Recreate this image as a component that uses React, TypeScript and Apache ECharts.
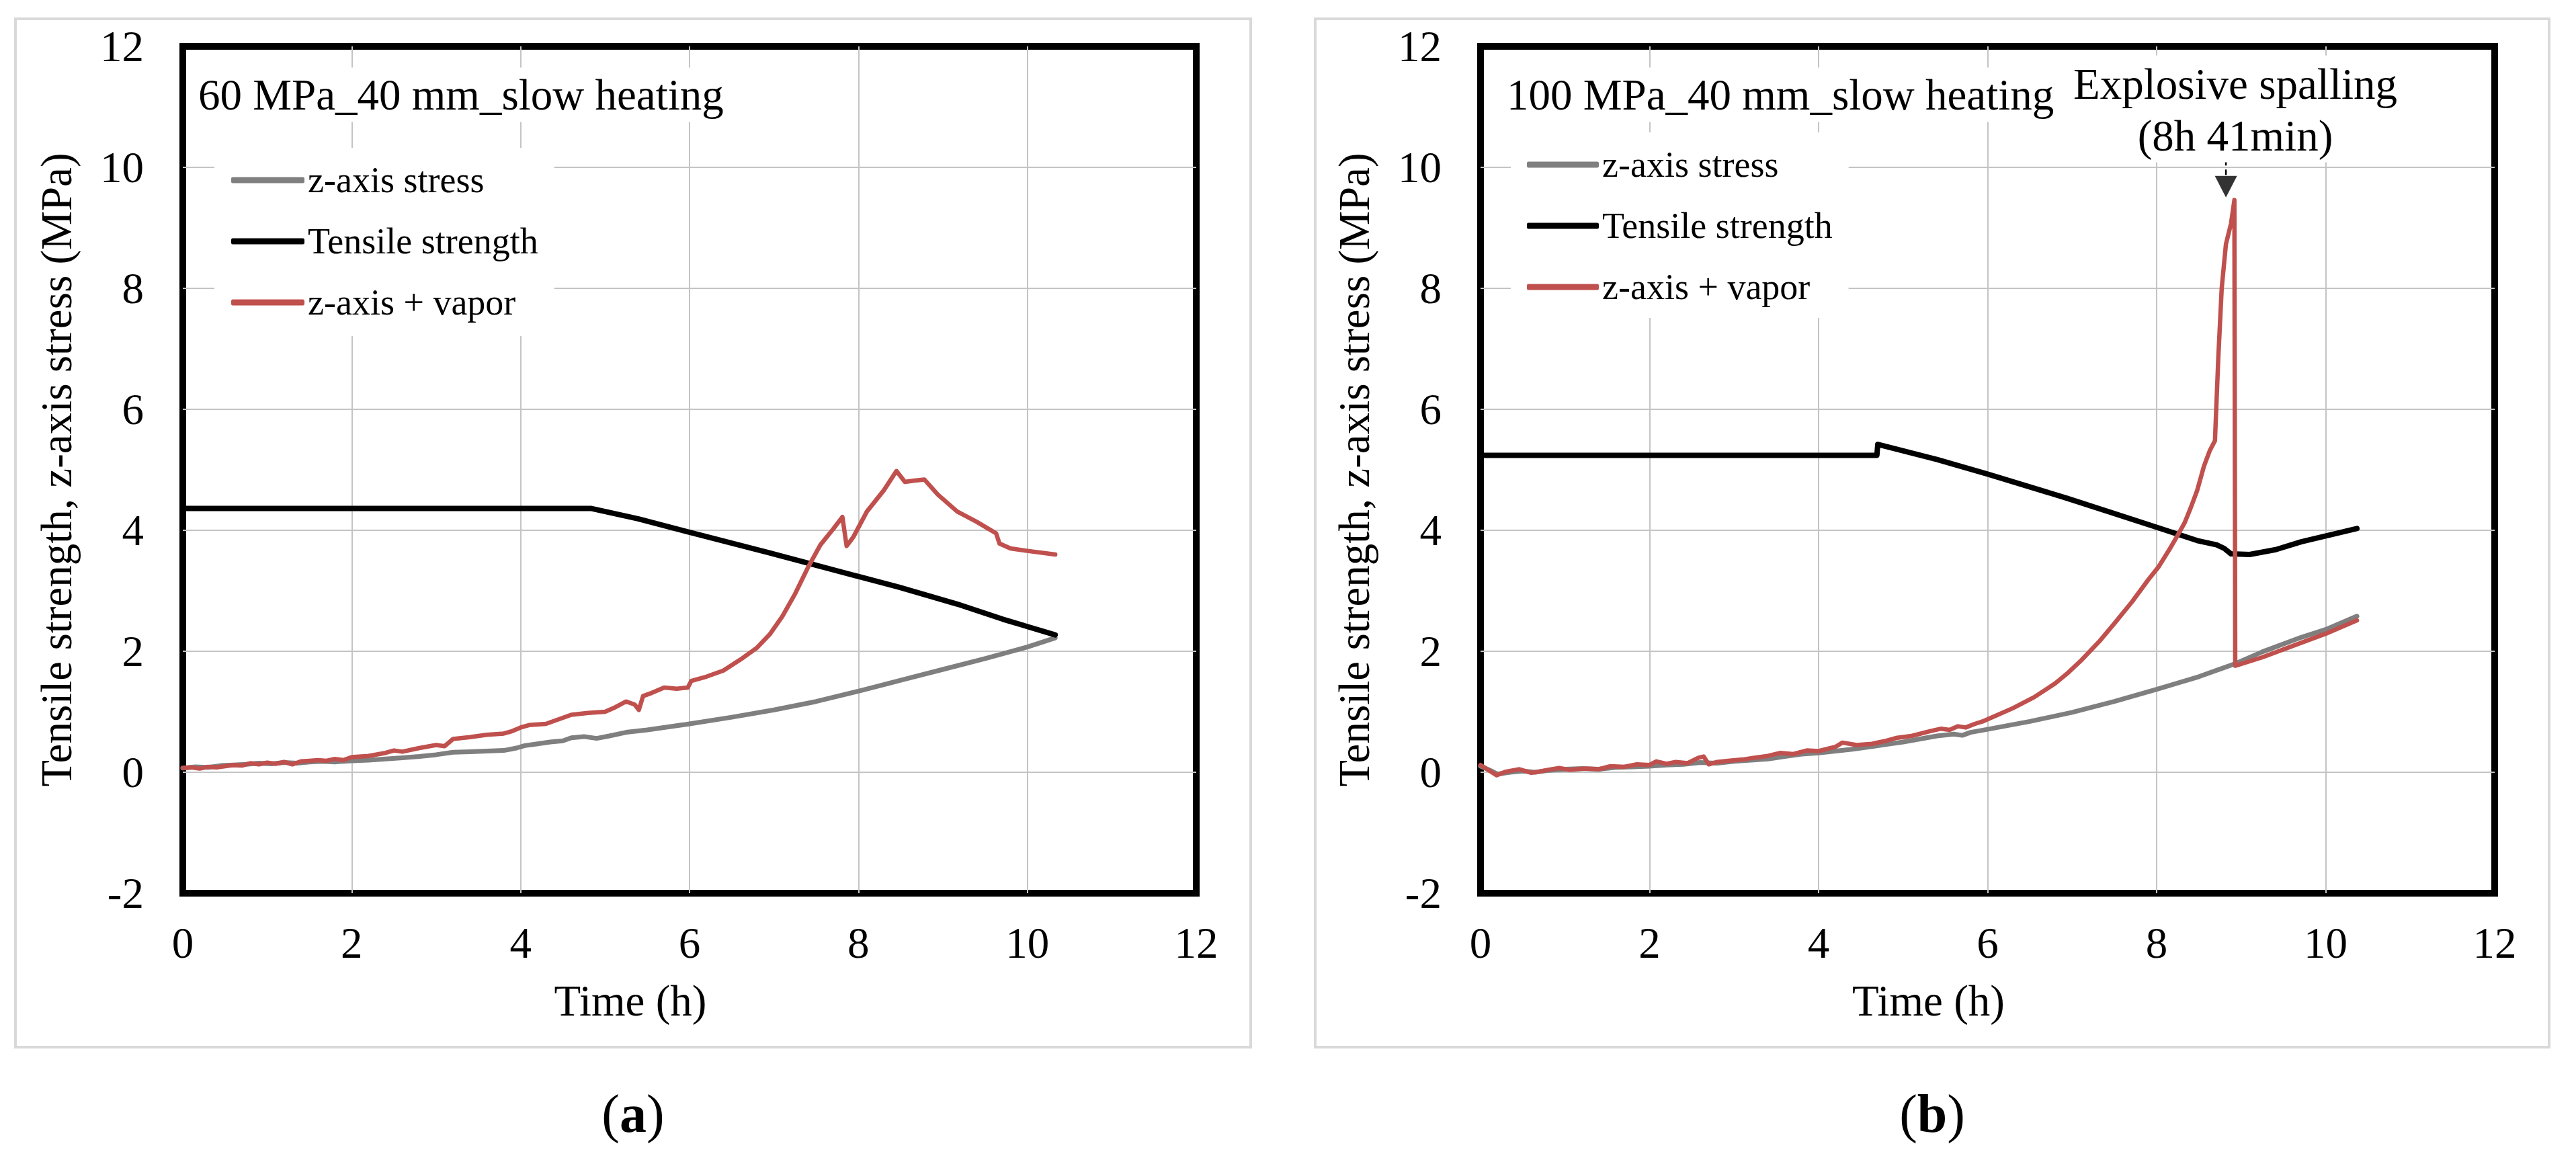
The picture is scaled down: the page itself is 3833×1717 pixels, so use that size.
import React, { useEffect, useRef } from "react";
import * as echarts from "echarts";

const FONT = "'Liberation Serif', 'Times New Roman', serif";

const NAMES = ["z-axis stress", "Tensile strength", "z-axis + vapor"];
const TITLE_A = "60 MPa_40 mm_slow heating";
const TITLE_B = "100 MPa_40 mm_slow heating";
const X_TITLE = "Time (h)";
const Y_TITLE = "Tensile strength, z-axis stress (MPa)";
const NOTE_1 = "Explosive spalling";
const NOTE_2 = "(8h 41min)";

// ---- Panel (a): 60 MPa ----
const A_GRAY_X = [0, 0.15, 0.3, 0.45, 0.6, 0.75, 0.9, 1.05, 1.2, 1.35, 1.5, 1.65, 1.8, 2.0, 2.2, 2.4, 2.6, 2.8, 3.0, 3.2, 3.4, 3.6, 3.8, 3.95, 4.05, 4.2, 4.35, 4.5, 4.6, 4.75, 4.9, 5.05, 5.25, 5.5, 5.75, 6.0, 6.5, 7.0, 7.5, 8.0, 8.5, 9.0, 9.5, 10.0, 10.33];
const A_GRAY_Y = [0.07, 0.09, 0.08, 0.11, 0.12, 0.13, 0.15, 0.14, 0.16, 0.15, 0.17, 0.18, 0.17, 0.19, 0.2, 0.22, 0.24, 0.26, 0.29, 0.33, 0.34, 0.35, 0.36, 0.4, 0.44, 0.47, 0.5, 0.52, 0.57, 0.59, 0.56, 0.6, 0.66, 0.7, 0.75, 0.8, 0.91, 1.03, 1.17, 1.34, 1.52, 1.7, 1.88, 2.07, 2.22];

const A_BLACK_X = [0, 4.84, 5.39, 5.99, 6.94, 7.99, 8.48, 9.17, 9.71, 10.33];
const A_BLACK_Y = [4.36, 4.36, 4.19, 3.97, 3.63, 3.24, 3.06, 2.78, 2.53, 2.27];

const A_RED_X = [0, 0.1, 0.2, 0.3, 0.4, 0.5, 0.6, 0.7, 0.8, 0.9, 1.0, 1.1, 1.2, 1.3, 1.4, 1.5, 1.6, 1.7, 1.8, 1.9, 2.0, 2.2, 2.4, 2.5, 2.6, 2.8, 3.0, 3.1, 3.2, 3.4, 3.6, 3.8, 3.9, 4.0, 4.1, 4.3, 4.5, 4.6, 4.8, 5.0, 5.1, 5.25, 5.35, 5.4, 5.45, 5.55, 5.7, 5.85, 5.98, 6.02, 6.2, 6.4, 6.6, 6.8, 6.95, 7.1, 7.25, 7.4, 7.55, 7.7, 7.81, 7.86, 7.94, 8.1, 8.3, 8.45, 8.55, 8.65, 8.78, 8.94, 9.17, 9.4, 9.63, 9.67, 9.8, 10.0, 10.33];
const A_RED_Y = [0.07, 0.08, 0.06, 0.09, 0.08, 0.1, 0.12, 0.11, 0.15, 0.13, 0.16, 0.14, 0.17, 0.13, 0.18, 0.19, 0.2, 0.19, 0.22, 0.2, 0.25, 0.27, 0.32, 0.36, 0.34, 0.4, 0.45, 0.43, 0.55, 0.58, 0.62, 0.64, 0.68, 0.74, 0.78, 0.8, 0.9, 0.95, 0.98, 1.0, 1.06, 1.17, 1.12, 1.03, 1.26, 1.31, 1.4, 1.38, 1.4, 1.51, 1.58, 1.68, 1.86, 2.06, 2.28, 2.58, 2.95, 3.38, 3.76, 4.02, 4.22, 3.74, 3.89, 4.31, 4.66, 4.98, 4.8, 4.82, 4.84, 4.59, 4.31, 4.14, 3.95, 3.78, 3.7, 3.66, 3.6];

// ---- Panel (b): 100 MPa ----
const B_GRAY_X = [0, 0.1, 0.2, 0.35, 0.5, 0.65, 0.8, 1.0, 1.2, 1.4, 1.6, 1.8, 2.0, 2.2, 2.4, 2.6, 2.8, 3.0, 3.2, 3.4, 3.6, 3.8, 4.0, 4.2, 4.4, 4.6, 4.8, 5.0, 5.2, 5.4, 5.6, 5.7, 5.8, 6.0, 6.5, 7.0, 7.5, 8.0, 8.5, 8.94, 9.25, 9.71, 10.0, 10.37];
const B_GRAY_Y = [0.1, 0.04, -0.03, 0.0, 0.02, 0.0, 0.03, 0.05, 0.06, 0.05, 0.08, 0.09, 0.1, 0.12, 0.13, 0.16, 0.15, 0.18, 0.2, 0.22, 0.26, 0.3, 0.32, 0.35, 0.38, 0.42, 0.46, 0.5, 0.55, 0.6, 0.63, 0.61, 0.66, 0.71, 0.84, 0.99, 1.17, 1.37, 1.58, 1.8, 1.99, 2.23, 2.36, 2.58];

const B_BLACK_X = [0, 4.69, 4.7, 5.4, 6.0, 6.94, 8.0, 8.48, 8.71, 8.8, 8.88, 9.1, 9.41, 9.71, 10.37];
const B_BLACK_Y = [5.24, 5.24, 5.42, 5.17, 4.93, 4.53, 4.05, 3.83, 3.76, 3.7, 3.61, 3.6, 3.68, 3.81, 4.03];

const B_RED_X = [0, 0.1, 0.19, 0.3, 0.46, 0.6, 0.69, 0.8, 0.93, 1.05, 1.23, 1.4, 1.54, 1.7, 1.85, 2.0, 2.08, 2.2, 2.31, 2.45, 2.58, 2.64, 2.7, 2.8, 2.93, 3.1, 3.24, 3.4, 3.55, 3.7, 3.86, 4.0, 4.2, 4.28, 4.45, 4.63, 4.8, 4.93, 5.1, 5.32, 5.45, 5.55, 5.65, 5.74, 5.85, 5.94, 6.09, 6.3, 6.55, 6.8, 6.94, 7.1, 7.32, 7.5, 7.71, 7.9, 8.02, 8.15, 8.25, 8.33, 8.4, 8.48, 8.56, 8.63, 8.69, 8.73, 8.77, 8.82, 8.88, 8.92, 8.93, 9.25, 9.71, 10.0, 10.37];
const B_RED_Y = [0.12, 0.03, -0.05, 0.01, 0.05, -0.01, 0.01, 0.04, 0.07, 0.04, 0.06, 0.05, 0.1, 0.09, 0.13, 0.12, 0.18, 0.14, 0.17, 0.15, 0.24, 0.26, 0.13, 0.17, 0.19, 0.21, 0.24, 0.27, 0.32, 0.3, 0.36, 0.35, 0.42, 0.49, 0.45, 0.47, 0.52, 0.57, 0.6, 0.68, 0.72, 0.7, 0.76, 0.74, 0.8, 0.84, 0.93, 1.06, 1.24, 1.47, 1.63, 1.84, 2.16, 2.46, 2.82, 3.18, 3.39, 3.68, 3.92, 4.12, 4.36, 4.66, 5.06, 5.32, 5.48, 6.86, 8.0, 8.73, 9.07, 9.46, 1.76, 1.9, 2.14, 2.29, 2.51];

// spalling arrow (x, stem top/bottom y, head centre y)
const ARROW_X = [8.82];
const ARROW_STEM_Y = [10.12, 9.86];
const ARROW_HEAD_Y = [9.68];

const X_TICKS = [0, 12, 2];
const Y_TICKS = [-2, 12, 2];

const GRAY = "#7f7f7f";
const BLACK = "#000000";
const RED = "#c0504d";

const zip = (xs: number[], ys: number[]) => xs.map((x, i) => [x, ys[i]]);

const splitLine = {
  show: true,
  showMinLine: false,
  showMaxLine: false,
  lineStyle: { color: "#c4c4c4", width: 2 },
};

function axisX(gridIndex: number) {
  return {
    type: "value",
    gridIndex,
    min: X_TICKS[0],
    max: X_TICKS[1],
    interval: X_TICKS[2],
    axisLine: { show: false },
    axisTick: { show: false },
    splitLine,
    axisLabel: { color: "#000", fontFamily: FONT, fontSize: 65, lineHeight: 65, margin: 41 },
    name: X_TITLE,
    nameLocation: "middle",
    nameGap: 127,
    nameTextStyle: { color: "#000", fontFamily: FONT, fontSize: 65, lineHeight: 65, padding: [0, 176, 0, 0] },
  };
}

function axisY(gridIndex: number) {
  return {
    type: "value",
    gridIndex,
    min: Y_TICKS[0],
    max: Y_TICKS[1],
    interval: Y_TICKS[2],
    axisLine: { show: false },
    axisTick: { show: false },
    splitLine,
    axisLabel: { color: "#000", fontFamily: FONT, fontSize: 65, margin: 58 },
    name: Y_TITLE,
    nameLocation: "middle",
    nameGap: 156,
    nameTextStyle: { color: "#000", fontFamily: FONT, fontSize: 65, lineHeight: 65 },
  };
}

function lineSeries(name: string, data: number[][], color: string, idx: number, width: number) {
  return {
    type: "line",
    name,
    xAxisIndex: idx,
    yAxisIndex: idx,
    data,
    symbol: "none",
    showSymbol: false,
    lineStyle: { color, width, cap: "round", join: "round" },
    itemStyle: { color },
    silent: true,
  };
}

function legend(left: number, top: number, itemWidth: number, padding: number[]) {
  return {
    data: NAMES,
    orient: "vertical",
    left,
    top,
    padding,
    backgroundColor: "#ffffff",
    icon: "roundRect",
    itemWidth,
    itemHeight: 9,
    itemGap: 31,
    selectedMode: false,
    textStyle: { color: "#000", fontFamily: FONT, fontSize: 54, lineHeight: 60 },
  };
}

function textEl(text: string, x: number, y: number, opts: any = {}) {
  return {
    type: "text",
    x,
    y,
    z: 50,
    silent: true,
    style: {
      text,
      fill: "#000",
      font: "65px 'Liberation Serif', 'Times New Roman', serif",
      fontFamily: FONT,
      fontSize: 65,
      align: "left",
      verticalAlign: "middle",
      ...opts,
    },
  };
}

function panelLabel(letter: string, x: number) {
  return {
    type: "text",
    x,
    y: 1657,
    z: 50,
    silent: true,
    style: {
      text: "{p|(}{b|" + letter + "}{p|)}",
      align: "center",
      verticalAlign: "middle",
      rich: {
        p: { fontFamily: FONT, fontSize: 80, fill: "#000", fontWeight: "normal" },
        b: { fontFamily: FONT, fontSize: 80, fill: "#000", fontWeight: "bold" },
      },
    },
  };
}

export default function App() {
  const ref = useRef<HTMLDivElement>(null);

  useEffect(() => {
    document.body.style.margin = "0";
    if (!ref.current) return;
    const chart = echarts.init(ref.current, undefined, { renderer: "svg" });

    const option: any = {
      animation: false,
      backgroundColor: "#ffffff",
      textStyle: { fontFamily: FONT },
      grid: [
        { left: 272, top: 69, width: 1508, height: 1260, show: true, borderColor: "#000", borderWidth: 10, backgroundColor: "transparent", containLabel: false },
        { left: 2203, top: 69, width: 1509, height: 1260, show: true, borderColor: "#000", borderWidth: 10, backgroundColor: "transparent", containLabel: false },
      ],
      xAxis: [axisX(0), axisX(1)],
      yAxis: [axisY(0), axisY(1)],
      legend: [
        legend(319, 220, 109, [18, 24, 20, 25]),
        legend(2248, 197, 107, [18, 24, 16, 24]),
      ],
      series: [
        lineSeries(NAMES[0], zip(A_GRAY_X, A_GRAY_Y), GRAY, 0, 7),
        lineSeries(NAMES[1], zip(A_BLACK_X, A_BLACK_Y), BLACK, 0, 8),
        lineSeries(NAMES[2], zip(A_RED_X, A_RED_Y), RED, 0, 6.5),
        lineSeries(NAMES[0], zip(B_GRAY_X, B_GRAY_Y), GRAY, 1, 7),
        lineSeries(NAMES[1], zip(B_BLACK_X, B_BLACK_Y), BLACK, 1, 8),
        lineSeries(NAMES[2], zip(B_RED_X, B_RED_Y), RED, 1, 6.5),
        {
          type: "line",
          name: "arrow-stem",
          xAxisIndex: 1,
          yAxisIndex: 1,
          data: ARROW_STEM_Y.map((y) => [ARROW_X[0], y]),
          symbol: "none",
          lineStyle: { color: "#000", width: 2.5, type: [8, 6] },
          silent: true,
        },
        {
          type: "scatter",
          name: "arrow-head",
          xAxisIndex: 1,
          yAxisIndex: 1,
          data: ARROW_HEAD_Y.map((y) => [ARROW_X[0], y]),
          symbol: "triangle",
          symbolRotate: 180,
          symbolSize: [33, 32],
          itemStyle: { color: "#000" },
          silent: true,
        },
      ],
      graphic: [
        { type: "rect", z: 1, silent: true, shape: { x: 23, y: 28, width: 1838, height: 1530 }, style: { fill: "none", stroke: "#d9d9d9", lineWidth: 4 } },
        { type: "rect", z: 1, silent: true, shape: { x: 1957, y: 28, width: 1836, height: 1530 }, style: { fill: "none", stroke: "#d9d9d9", lineWidth: 4 } },
        textEl(TITLE_A, 287, 141, { backgroundColor: "#fff", padding: [10, 8, 6, 8] }),
        textEl(TITLE_B, 2234, 141, { backgroundColor: "#fff", padding: [10, 8, 6, 8] }),
        textEl(NOTE_1, 3326, 125, { align: "center", backgroundColor: "#fff", padding: [8, 12, 12, 12] }),
        textEl(NOTE_2, 3326, 202, { align: "center", backgroundColor: "#fff", padding: [6, 12, 8, 12] }),
        panelLabel("a", 942),
        panelLabel("b", 2875),
      ],
    };

    chart.setOption(option);
    return () => chart.dispose();
  }, []);

  return <div ref={ref} style={{ width: 3833, height: 1717, background: "#fff" }} />;
}
